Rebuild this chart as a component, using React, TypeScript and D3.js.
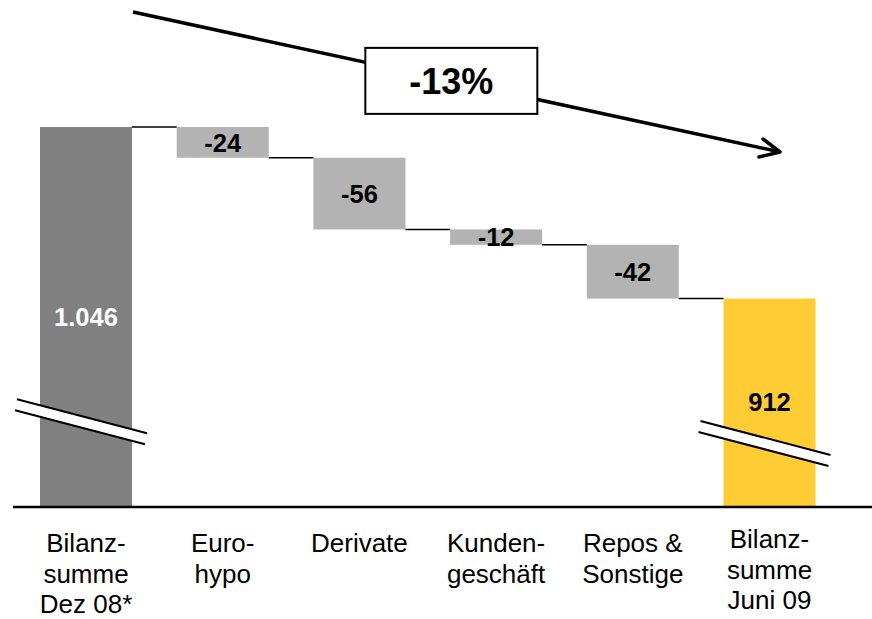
import React from "react";
import * as d3 from "d3";

// Balance sheet bridge, Dec 08 -> June 09 (EUR bn)
const categoryLines: string[][] = [
  ["Bilanz-", "summe", "Dez 08*"],
  ["Euro-", "hypo"],
  ["Derivate"],
  ["Kunden-", "geschäft"],
  ["Repos &", "Sonstige"],
  ["Bilanz-", "summe", "Juni 09"],
];
const startTotal = 1046;
const changes = [-24, -56, -12, -42];
const endTotal = 912;
// value where the truncated axis starts (bars are cut by break marks)
const axisFloor = 750;
// levels at which the two total bars are drawn with a break symbol
const breakLevels = [815, 798];

const WIDTH = 872;
const HEIGHT = 619;
const BASE_Y = 506;
const TOP_Y = 127;

const FONT = "'Liberation Sans', Arial, Helvetica, sans-serif";
const COLOR_START = "#808080";
const COLOR_DELTA = "#b3b3b3";
const COLOR_END = "#ffcc33";

const de = d3.formatLocale({ decimal: ",", thousands: ".", grouping: [3], currency: ["", " €"], minus: "-" });
const fmtTotal = de.format(",d");
const fmtDelta = de.format("d");

type Step = { key: string; lo: number; hi: number; label: string; fill: string; textFill: string };

function buildSteps(): Step[] {
  const steps: Step[] = [];
  steps.push({ key: "s0", lo: axisFloor, hi: startTotal, label: fmtTotal(startTotal), fill: COLOR_START, textFill: "#ffffff" });
  let level = startTotal;
  changes.forEach((c, i) => {
    const next = level + c;
    steps.push({
      key: "d" + i,
      lo: Math.min(level, next),
      hi: Math.max(level, next),
      label: fmtDelta(c),
      fill: COLOR_DELTA,
      textFill: "#000000",
    });
    level = next;
  });
  steps.push({ key: "s1", lo: axisFloor, hi: endTotal, label: fmtTotal(endTotal), fill: COLOR_END, textFill: "#000000" });
  return steps;
}

export default function App() {
  const steps = buildSteps();
  const keys = steps.map((s) => s.key);

  const x = d3
    .scaleBand<string>()
    .domain(keys)
    .range([17.65, 837.85])
    .paddingInner(0.327)
    .paddingOuter(0.1635);
  const y = d3.scaleLinear().domain([axisFloor, startTotal]).range([BASE_Y, TOP_Y]);
  const bw = x.bandwidth();

  // connectors between consecutive bars at the running level
  const connectors: { x1: number; x2: number; yv: number }[] = [];
  let level = startTotal;
  for (let i = 0; i < steps.length - 1; i++) {
    if (i > 0) level += changes[i - 1];
    connectors.push({ x1: (x(keys[i]) as number) + bw, x2: x(keys[i + 1]) as number, yv: level });
  }

  // trend arrow with the overall change
  const pct = Math.round(((endTotal - startTotal) / startTotal) * 100);
  const arrowStart: [number, number] = [133, 12];
  const arrowEnd: [number, number] = [780, 152];
  const t = 0.492;
  const boxCx = arrowStart[0] + (arrowEnd[0] - arrowStart[0]) * t;
  const boxCy = arrowStart[1] + (arrowEnd[1] - arrowStart[1]) * t;
  const boxW = 172;
  const boxH = 66;

  const totals = [steps[0], steps[steps.length - 1]];
  const totalKeys = [keys[0], keys[keys.length - 1]];

  return (
    <svg
      width={WIDTH}
      height={HEIGHT}
      style={{ position: "absolute", left: 0, top: 0, background: "#ffffff" }}
      fontFamily={FONT}
    >
      {/* bars */}
      {steps.map((s) => (
        <rect key={s.key} x={x(s.key)} y={y(s.hi)} width={bw} height={y(s.lo) - y(s.hi)} fill={s.fill} />
      ))}

      {/* connectors */}
      {connectors.map((c, i) => (
        <line key={i} x1={c.x1} x2={c.x2} y1={y(c.yv)} y2={y(c.yv)} stroke="#000" strokeWidth={1.5} />
      ))}

      {/* axis break marks on the total bars */}
      {totals.map((s, i) => {
        const bx = x(totalKeys[i]) as number;
        const cy = y(breakLevels[i]);
        const xl = bx - 23;
        const xr = bx + bw + 15;
        const slope = 0.262;
        const gap = 11;
        const yl = cy - ((bx + bw / 2) - xl) * slope;
        const yr = cy + (xr - (bx + bw / 2)) * slope;
        const pts = `${xl},${yl - gap / 2} ${xr},${yr - gap / 2} ${xr},${yr + gap / 2} ${xl},${yl + gap / 2}`;
        return (
          <g key={s.key}>
            <polygon points={pts} fill="#ffffff" />
            <line x1={xl} y1={yl - gap / 2} x2={xr} y2={yr - gap / 2} stroke="#000" strokeWidth={2} />
            <line x1={xl - 2} y1={yl + gap / 2} x2={xr - 2} y2={yr + gap / 2} stroke="#000" strokeWidth={2} />
          </g>
        );
      })}

      {/* value labels */}
      {steps.map((s) => (
        <text
          key={s.key + "l"}
          x={(x(s.key) as number) + bw / 2}
          y={(y(s.hi) + y(s.lo)) / 2}
          dy="0.36em"
          textAnchor="middle"
          fontSize={25.5}
          fontWeight="bold"
          fill={s.textFill}
        >
          {s.label}
        </text>
      ))}

      {/* baseline */}
      <line x1={13} x2={WIDTH} y1={BASE_Y + 1} y2={BASE_Y + 1} stroke="#000" strokeWidth={2.5} />

      {/* category labels */}
      {categoryLines.map((lines, i) => (
        <text
          key={"c" + i}
          x={(x(keys[i]) as number) + bw / 2}
          y={i === categoryLines.length - 1 ? 548 : 552}
          textAnchor="middle"
          fontSize={26}
          fill="#000"
        >
          {lines.map((ln, j) => (
            <tspan key={j} x={(x(keys[i]) as number) + bw / 2} dy={j === 0 ? 0 : 30.5}>
              {ln}
            </tspan>
          ))}
        </text>
      ))}

      {/* overall trend arrow */}
      <line
        x1={arrowStart[0]}
        y1={arrowStart[1]}
        x2={arrowEnd[0] - 2}
        y2={arrowEnd[1] - 0.5}
        stroke="#000"
        strokeWidth={3.5}
      />
      <polyline
        points={`763,139 ${arrowEnd[0]},${arrowEnd[1]} 759,157`}
        fill="none"
        stroke="#000"
        strokeWidth={3.5}
        strokeLinecap="round"
        strokeLinejoin="round"
      />
      <rect x={boxCx - boxW / 2} y={boxCy - boxH / 2} width={boxW} height={boxH} fill="#ffffff" stroke="#000" strokeWidth={2} />
      <text x={boxCx} y={boxCy} dy="0.36em" textAnchor="middle" fontSize={36} fontWeight="bold" fill="#000">
        {fmtDelta(pct)}%
      </text>
    </svg>
  );
}
